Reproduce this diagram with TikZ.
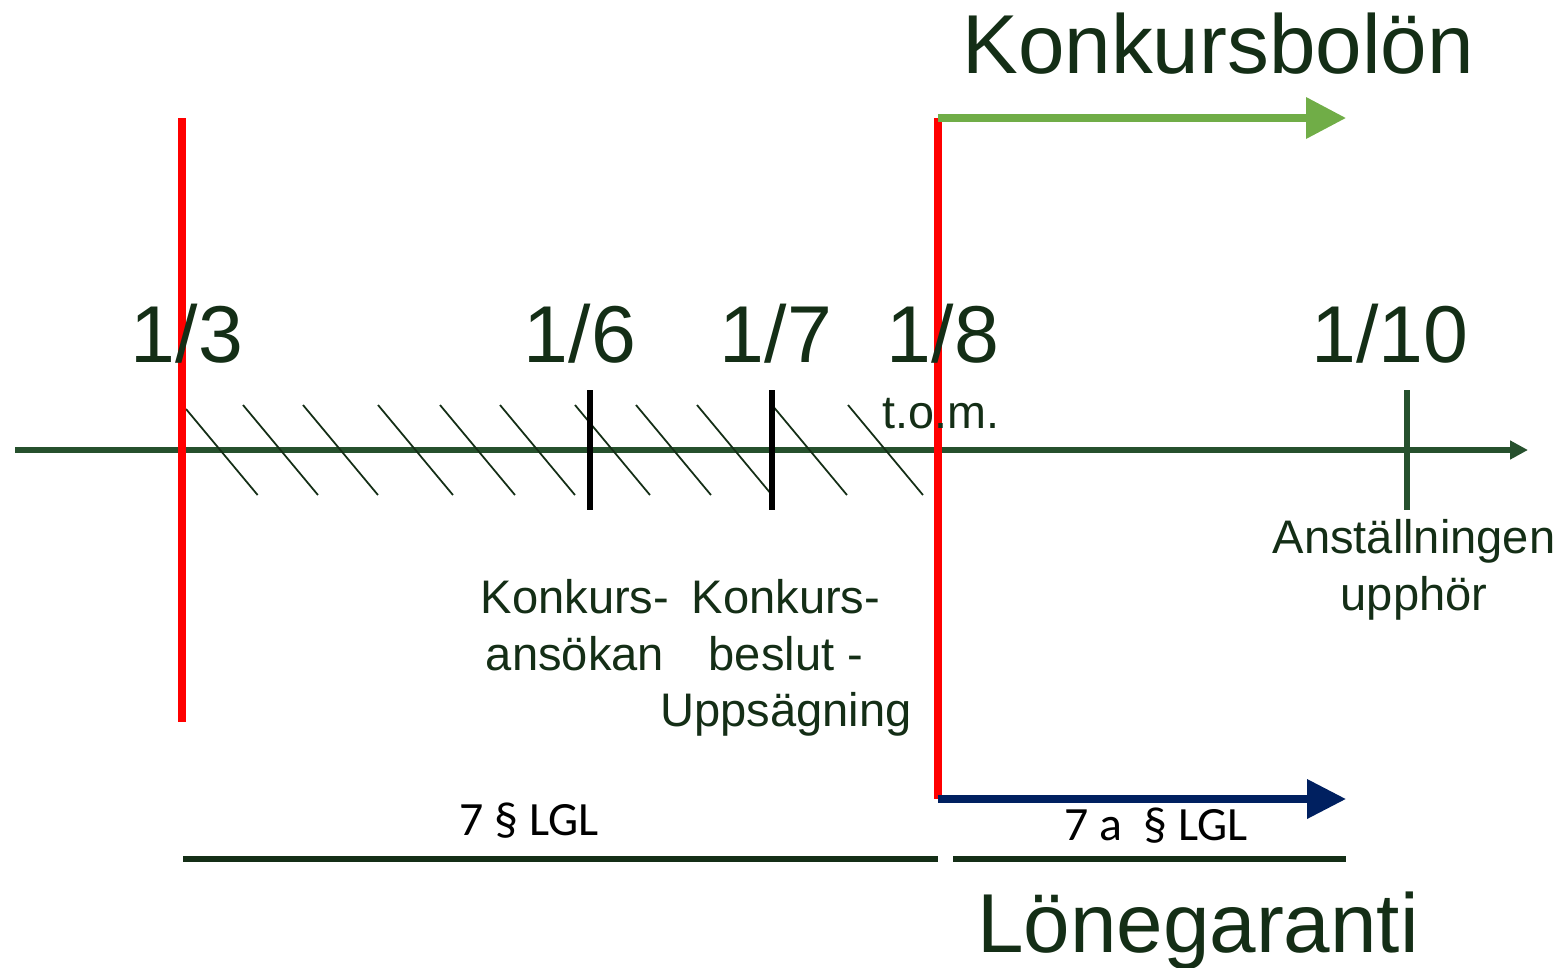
\documentclass[tikz,border=0pt]{standalone}
\usepackage{fontspec}
\setmainfont{Liberation Sans}
\newfontfamily\lglfont{Carlito}
\usetikzlibrary{arrows.meta}
\definecolor{axisgreen}{RGB}{38,80,45}
\definecolor{textgreen}{RGB}{20,46,22}
\definecolor{boloncolour}{RGB}{112,173,71}
\definecolor{garanticolour}{RGB}{0,32,96}

\begin{document}
\begin{tikzpicture}[x=0.02cm,y=-0.02cm,
    date/.style={anchor=base,inner sep=0pt,text=textgreen,font=\fontsize{45.9}{50}\selectfont},
    title/.style={anchor=base,inner sep=0pt,text=textgreen,font=\fontsize{47.6}{52}\selectfont},
    event/.style={anchor=north,inner sep=0pt,align=center,text=textgreen,font=\fontsize{26.8}{32.3}\selectfont},
    lgl/.style={anchor=base,inner sep=0pt,font=\lglfont\fontsize{27.2}{32}\selectfont},
    axisline/.style={draw=axisgreen,line width=3.2pt,-{Triangle[length=0.36cm,width=0.36cm]}},
    hatch/.style={draw=textgreen,line width=1pt},
    redline/.style={draw=red,line width=4pt},
    tick/.style={draw=black,line width=3.4pt}]
    \useasboundingbox (0,0) rectangle (1565,967);
    \coordinate (axisstart) at (15,450);
    \coordinate (axisend) at (1528,450);
    \draw[axisline] (axisstart) -- (axisend);
    \foreach \x/\t in {186/409,243/405,303/405,378/405,440/405,500/405,575/405,636/405,697/405,772/405,848/405}
    {
        \draw[hatch] (\x,\t) -- ++({(495-\t)*0.833},{495-\t});
    }
    \coordinate (ansokantop) at (590,390);
    \coordinate (ansokanbot) at (590,510);
    \coordinate (beslutop) at (772,390);
    \coordinate (beslutbot) at (772,510);
    \coordinate (upphortop) at (1407,390);
    \coordinate (upphorbot) at (1407,510);
    \draw[tick] (ansokantop) -- (ansokanbot);
    \draw[tick] (beslutop) -- (beslutbot);
    \draw[tick,draw=axisgreen] (upphortop) -- (upphorbot);
    \coordinate (marchtop) at (182,118);
    \coordinate (marchbot) at (182,722);
    \coordinate (augtop) at (938,118);
    \coordinate (augbot) at (938,799);
    \draw[redline] (marchtop) -- (marchbot);
    \draw[redline] (augtop) -- (augbot);
    \coordinate (bolonend) at (1346,118);
    \coordinate (garantiend) at (1346,799);
    \draw[draw=boloncolour,line width=4pt,-{Triangle[length=0.8cm,width=0.8cm]}] (augtop) -- (bolonend);
    \draw[draw=garanticolour,line width=4pt,-{Triangle[length=0.78cm,width=0.76cm]}] (augbot) -- (garantiend);
    \coordinate (sevenstart) at (183,859);
    \coordinate (sevenend) at (938,859);
    \coordinate (sevenastart) at (953,859);
    \coordinate (sevenaend) at (1346,859);
    \draw[draw=textgreen,line width=3.4pt] (sevenstart) -- (sevenend);
    \draw[draw=textgreen,line width=3.4pt] (sevenastart) -- (sevenaend);
    \node[date] (march) at (187,362) {1/3};
    \node[date] (june) at (580,362) {1/6};
    \node[date] (july) at (776,362) {1/7};
    \node[date] (august) at (943,362) {1/8};
    \node[date] (october) at (1390,362) {1/10};
    \node[anchor=base,inner sep=0pt,text=textgreen,font=\fontsize{26.6}{32.3}\selectfont] (tom) at (941,428) {t.o.m.};
    \node[event] (ansokan) at (575,579) {Konkurs-\\ansökan};
    \node[event] (beslut) at (786,579) {Konkurs-\\beslut -\\Uppsägning};
    \node[event] (upphor) at (1414,519) {Anställningen\\upphör};
    \node[title] (bolon) at (1218,73) {Konkursbolön};
    \node[title] (garanti) at (1198,952) {Lönegaranti};
    \node[lgl] (seven) at (529,835) {7 § LGL};
    \node[lgl] (sevena) at (1156,840) {7 a~ § LGL};
\end{tikzpicture}
\end{document}
